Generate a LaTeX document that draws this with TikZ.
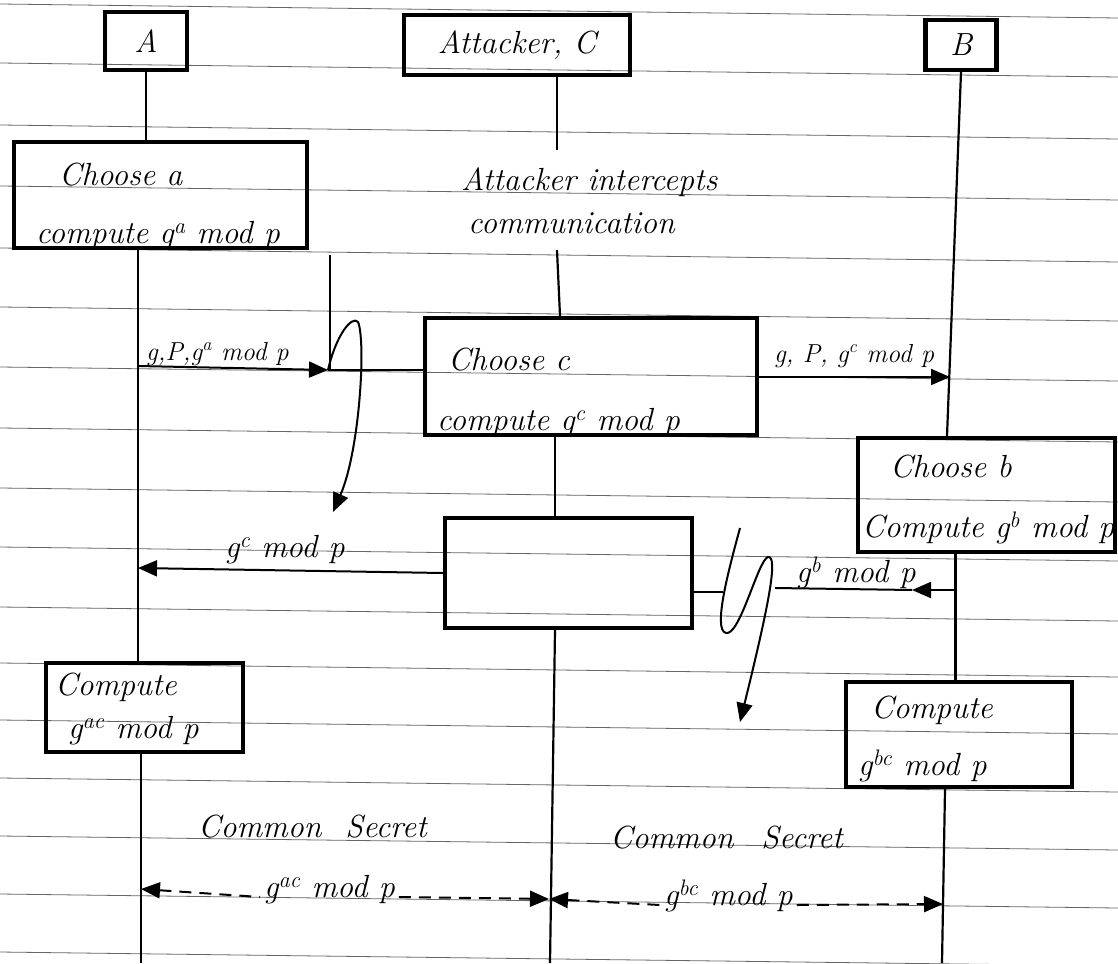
\documentclass[tikz,border=0pt]{standalone}
\usepackage{fontspec}
\usetikzlibrary{arrows.meta}
\newcommand{\sps}[1]{\textsuperscript{#1}}
\begin{document}
\begin{tikzpicture}[x=1pt,y=-1pt,
  rule/.style={black!60, line width=0.8pt},
  box/.style={draw, line width=4.2pt, inner sep=0pt, font=\fontsize{32}{38}\selectfont\itshape},
  life/.style={line width=2.2pt},
  msg/.style={line width=2pt},
  arr/.style={-{Triangle[length=19pt,width=16pt]}},
  arl/.style={{Triangle[length=19pt,width=16pt]}-},
  dsh/.style={dash pattern=on 12pt off 8pt},
  txt/.style={anchor=base west, inner sep=0pt, font=\fontsize{32}{38}\selectfont\itshape},
  lbl/.style={anchor=base west, inner sep=0pt, font=\fontsize{26}{30}\selectfont\itshape},
]
\useasboundingbox (0,0) rectangle (1118,963);
\fill[white] (0,0) rectangle (1118,963);
% ruled paper
\foreach \y in {4,63,125,186,248,307,367,428,488,547,607,663,720,778,836,894,952}
  \draw[rule] (0,\y) -- (1118,\y+14);

% boxes
\node[box, minimum width=82pt, minimum height=58pt] (A) at (146,41) {A};
\node[box, minimum width=226pt, minimum height=60pt] (C) at (517,45) {Attacker, C};
\node[box, minimum width=71pt, minimum height=50pt] (B) at (961,45) {B};
\node[box, minimum width=293pt, minimum height=106pt] (ca) at (160.5,195) {};
\node[box, minimum width=332pt, minimum height=117pt] (cc) at (591,376.5) {};
\node[box, minimum width=257pt, minimum height=114pt] (cb) at (986.5,495) {};
\node[box, minimum width=247pt, minimum height=110pt] (mid) at (568.5,573) {};
\node[box, minimum width=197pt, minimum height=89pt] (kac) at (144.5,707.5) {};
\node[box, minimum width=226pt, minimum height=105pt] (kbc) at (959,734.5) {};

% texts
\node[txt] (ta1) at (59,185) {Choose a};
\node[txt] (ta2) at (36,243) {compute g\sps{a} mod p};
\node[txt] (ti1) at (461,190) {Attacker intercepts};
\node[txt] (ti2) at (468,233) {communication};
\node[txt] (tc1) at (448,370) {Choose c};
\node[txt] (tc2) at (437,430) {compute g\sps{c} mod p};
\node[txt] (tb1) at (890,477) {Choose b};
\node[txt] (tb2) at (862,537) {Compute g\sps{b} mod p};
\node[txt] (tk1) at (55,695) {Compute};
\node[txt] (tk2) at (68,738) {g\sps{ac} mod p};
\node[txt] (tl1) at (871,718) {Compute};
\node[txt] (tl2) at (858,775) {g\sps{bc} mod p};
\node[txt] (cs1) at (198,837) {Common\hspace{24pt}Secret};
\node[txt] (cs2) at (610,848) {Common\hspace{28pt}Secret};

% message labels
\node[lbl] (l1) at (146,360) {g,P,g\sps{a} mod p};
\node[lbl] (l2) at (774,362) {g, P, g\sps{c} mod p};
\node[txt] (l3) at (796,582) {g\sps{b} mod p};
\node[txt] (l4) at (225,557) {g\sps{c} mod p};
\node[txt] (s1) at (264,897) {g\sps{ac} mod p};
\node[txt] (s2) at (664,905) {g\sps{bc} mod p};

% lifeline coordinates
\coordinate (al) at (138,0);
\coordinate (al2) at (141,963);
\coordinate (c1) at (557,150);
\coordinate (c2) at (557,250);
\coordinate (c3) at (560,0);
\coordinate (c4) at (555,0);
\coordinate (cbot) at (550,963);
\coordinate (b1) at (947,0);
\coordinate (b2) at (955.5,0);
\coordinate (b3) at (945,0);
\coordinate (bbot) at (942,963);

% lifelines
\draw[life] (A.south) -- (A.south |- ca.north);
\draw[life] (al |- ca.south) -- (al |- kac.north);
\draw[life] (al2 |- kac.south) -- (al2);
\draw[life] (c1 |- C.south) -- (c1);
\draw[life] (c2) -- (c3 |- cc.north);
\draw[life] (c4 |- cc.south) -- (c4 |- mid.north);
\draw[life] (c4 |- mid.south) -- (cbot);
\draw[life] (B.south) -- (b1 |- cb.north);
\draw[life] (b2 |- cb.south) -- (b2 |- kbc.north);
\draw[life] (b3 |- kbc.south) -- (bbot);

% message 1 with interception
\coordinate (m1s) at (138,366);
\coordinate (m1t) at (328,370);
\coordinate (v1) at (330,255);
\coordinate (lp1) at (333,512);
\draw[msg,arr] (m1s) -- (m1t);
\draw[msg] (m1t) -- (cc.west |- m1t);
\draw[msg] (v1) -- (v1 |- m1t);
\draw[msg,arr] (m1t) .. controls (336,335) and (352,315) .. (358,322)
  .. controls (366,340) and (360,450) .. (lp1);

% message 2
\coordinate (m2e) at (950,377);
\draw[msg,arr] (cc.east |- m2e) -- (m2e);

% message 3 with interception
\coordinate (m3s) at (955,590);
\coordinate (m3t) at (912,590);
\coordinate (m3e) at (775,588);
\draw[msg,arr] (m3s) -- (m3t);
\draw[msg] (m3t) -- (m3e);
\coordinate (tk) at (723,592);
\draw[msg] (mid.east |- tk) -- (tk);
\coordinate (lp2s) at (740,528);
\coordinate (lp2e) at (740,722);
\draw[msg,arr] (lp2s) .. controls (730,565) and (712,630) .. (726,633)
  .. controls (740,636) and (758,560) .. (768,557)
  .. controls (778,556) and (770,600) .. (lp2e);

% message 4
\coordinate (m4e) at (138,568);
\draw[msg,arr] (mid.west) -- (m4e);

% common secrets
\coordinate (sa) at (141,889);
\coordinate (sc) at (549,899);
\coordinate (sb) at (943,904);
\draw[msg,dsh,arl] (sa) -- ([xshift=-4pt]s1.base west);
\draw[msg,dsh,arr] ([xshift=4pt]s1.base east) -- (sc);
\draw[msg,dsh,arl] (sc) -- ([xshift=-4pt]s2.base west);
\draw[msg,dsh,arr] ([xshift=4pt]s2.base east) -- (sb);
\end{tikzpicture}
\end{document}
